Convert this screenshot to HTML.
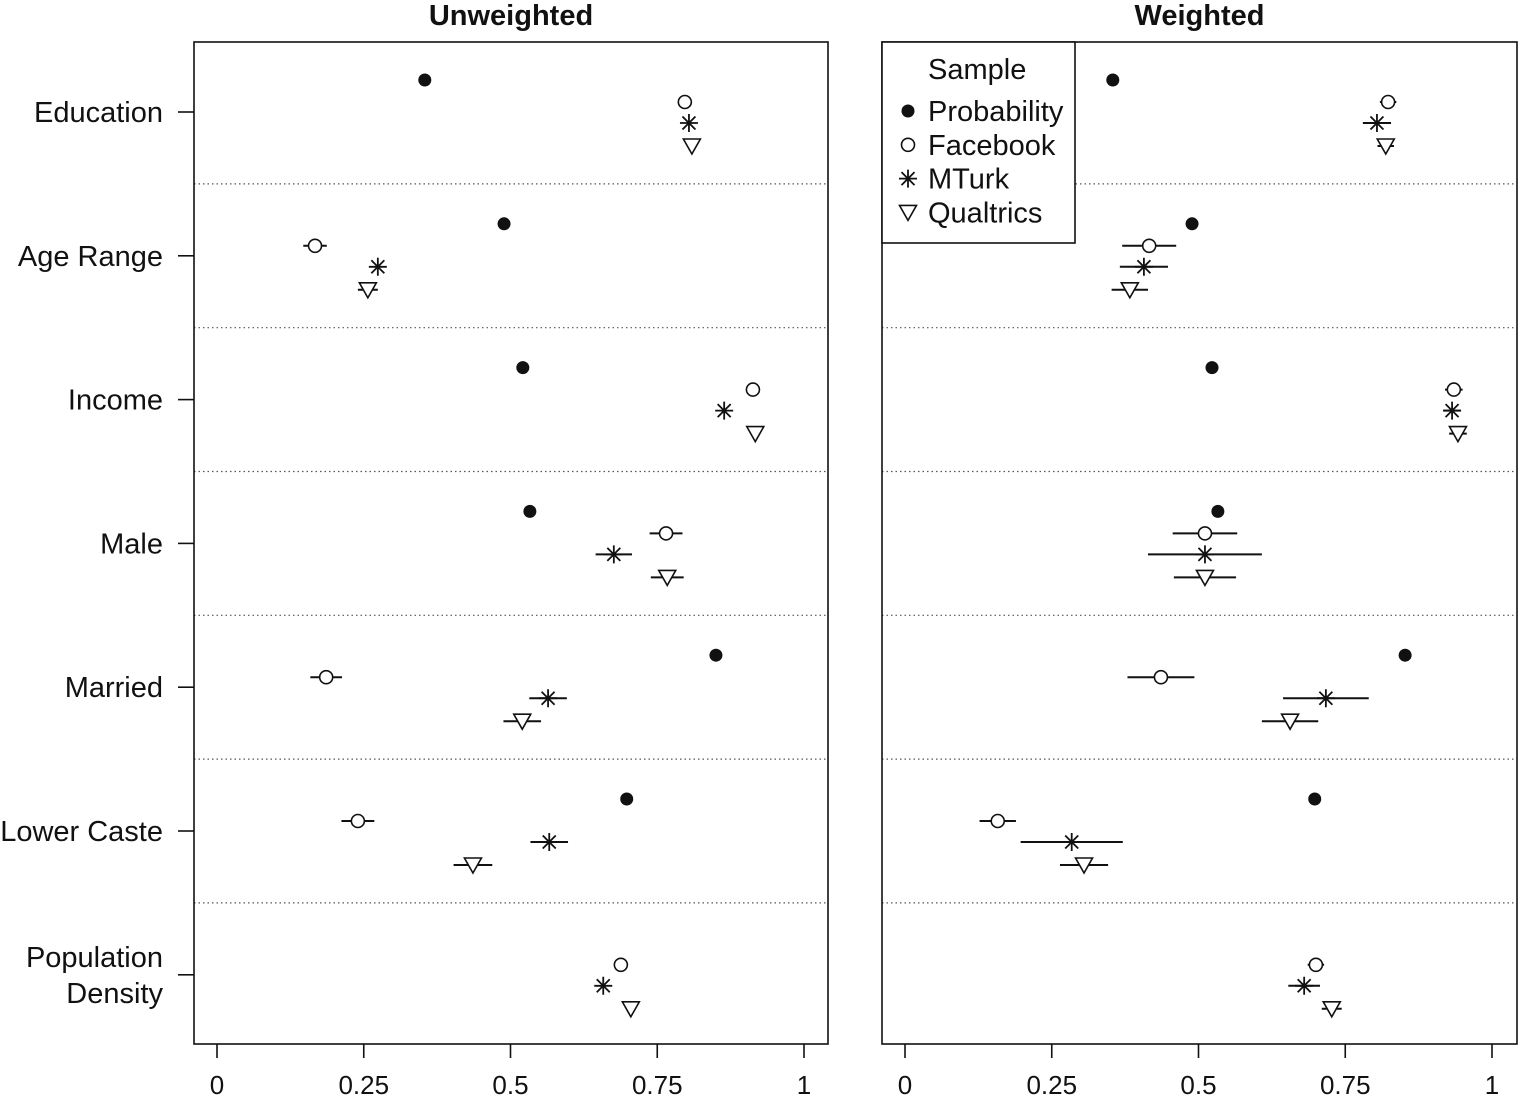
<!DOCTYPE html>
<html><head><meta charset="utf-8"><style>
html,body{margin:0;padding:0;background:#fff;}
svg{display:block;font-family:"Liberation Sans",sans-serif;}
</style></head><body>
<svg id="chart" width="1518" height="1103" viewBox="0 0 1518 1103"></svg>
<script>
const categories=["Education","Age Range","Income","Male","Married","Lower Caste","Population Density"];
const samples=["Probability","Facebook","MTurk","Qualtrics"];
const tickValues=[0,0.25,0.5,0.75,1];
const tickLabels=["0","0.25","0.5","0.75","1"];
// unweighted: [value, halfWidth] per category, null if missing
const unwProb=[[0.354,0],[0.489,0],[0.521,0],[0.533,0],[0.850,0],[0.698,0],null];
const unwFb=[[0.797,0],[0.167,0.02],[0.913,0],[0.765,0.028],[0.186,0.027],[0.240,0.028],[0.688,0]];
const unwMt=[[0.804,0],[0.274,0],[0.864,0],[0.676,0.031],[0.564,0.032],[0.566,0.032],[0.658,0]];
const unwQu=[[0.809,0],[0.257,0.017],[0.917,0],[0.767,0.028],[0.520,0.032],[0.436,0.033],[0.705,0]];
const wProb=[[0.354,0],[0.489,0],[0.523,0],[0.533,0],[0.852,0],[0.698,0],null];
const wFb=[[0.823,0.014],[0.416,0.046],[0.935,0.015],[0.511,0.055],[0.436,0.057],[0.158,0.031],[0.700,0.014]];
const wMt=[[0.804,0.024],[0.407,0.041],[0.932,0.015],[0.511,0.097],[0.717,0.073],[0.284,0.087],[0.680,0.027]];
const wQu=[[0.819,0.014],[0.383,0.031],[0.942,0.015],[0.511,0.053],[0.656,0.048],[0.305,0.041],[0.727,0.017]];

const NS="http://www.w3.org/2000/svg";
const svg=document.getElementById("chart");
function mk(tag,attrs,parent){const e=document.createElementNS(NS,tag);for(const k in attrs)e.setAttribute(k,attrs[k]);(parent||svg).appendChild(e);return e;}
const top0=42,bot=1044,rowY0=112,rowStep=143.8;
const offs=[-32,-10,11,34];
function rowY(i){return rowY0+i*rowStep;}

function marker(g,type,x,y){
  if(type===0){const c=mk("circle",{cx:x,cy:y,r:6.5,fill:"#111"},g);}
  else if(type===1){const c=mk("circle",{cx:x,cy:y,r:6.5,fill:"#fff",stroke:"#111","stroke-width":1.6},g);}
  else if(type===2){const p=mk("path",{d:`M${x-9} ${y}H${x+9}M${x} ${y-9}V${y+9}M${x-6.5} ${y-6.5}L${x+6.5} ${y+6.5}M${x-6.5} ${y+6.5}L${x+6.5} ${y-6.5}`,stroke:"#111","stroke-width":1.8,fill:"none"},g);}
  else {const p=mk("path",{d:`M${x-8.5} ${y-7}L${x+8.5} ${y-7}L${x} ${y+8}Z`,fill:"#fff",stroke:"#111","stroke-width":1.6},g);}
}

function panel(x0,x1,zero,one,title,series,name){
  const g=mk("g",{});
  
  
  const sx=v=>zero+v*(one-zero);
  const t=mk("text",{x:(x0+x1)/2,y:25,"text-anchor":"middle","font-size":29,"font-weight":"bold",fill:"#111"},g);
  t.textContent=title;
  
  
  for(let i=0;i<categories.length-1;i++){
    const y=(rowY(i)+rowY(i+1))/2;
    const l=mk("line",{x1:x0,x2:x1,y1:y,y2:y,stroke:"#555","stroke-width":1.2,"stroke-dasharray":"1.5 3"},g);
    
    
  }
  const r=mk("rect",{x:x0,y:top0,width:x1-x0,height:bot-top0,fill:"none",stroke:"#111","stroke-width":1.6},g);
  
  
  tickValues.forEach((v,i)=>{
    const tl=mk("line",{x1:sx(v),x2:sx(v),y1:bot,y2:bot+14,stroke:"#111","stroke-width":1.6},g);
    
    
    const tx=mk("text",{x:sx(v),y:1094,"text-anchor":"middle","font-size":26,fill:"#111"},g);
    tx.textContent=tickLabels[i];
    
    
  });
  series.forEach((arr,s)=>{
    arr.forEach((d,i)=>{
      if(!d)return;
      const y=rowY(i)+offs[s];
      if(d[1]>0){
        const e=mk("line",{x1:sx(d[0]-d[1]),x2:sx(d[0]+d[1]),y1:y,y2:y,stroke:"#111","stroke-width":2},g);
        
        
      }
      marker(g,s,sx(d[0]),y);
    });
  });
}
panel(194,828,217,804,"Unweighted",[unwProb,unwFb,unwMt,unwQu],"unweighted-panel");
panel(882,1517,905,1492,"Weighted",[wProb,wFb,wMt,wQu],"weighted-panel");

categories.forEach((c,i)=>{
  const y=rowY(i);
  const tl=mk("line",{x1:178,x2:194,y1:y,y2:y,stroke:"#111","stroke-width":1.6});
  
  
  if(c==="Population Density"){
    const t1=mk("text",{x:163,y:y-8,"text-anchor":"end","font-size":29,fill:"#111"});t1.textContent="Population";
    
    
    const t2=mk("text",{x:163,y:y+28,"text-anchor":"end","font-size":29,fill:"#111"});t2.textContent="Density";
    
    
  } else {
    const t=mk("text",{x:163,y:y+10,"text-anchor":"end","font-size":29,fill:"#111"});t.textContent=c;
    
    
  }
});

const lg=mk("g",{});


mk("rect",{x:882,y:42,width:193,height:201,fill:"#fff",stroke:"#111","stroke-width":1.6},lg);
const lt=mk("text",{x:928,y:79,"font-size":29,fill:"#111"},lg);lt.textContent="Sample";


samples.forEach((s,i)=>{
  const y=111+i*33.8;
  marker(lg,i,908,y);
  const t=mk("text",{x:928,y:y+10,"font-size":29,fill:"#111"},lg);t.textContent=s;
  
  
});
</script>
</body></html>
